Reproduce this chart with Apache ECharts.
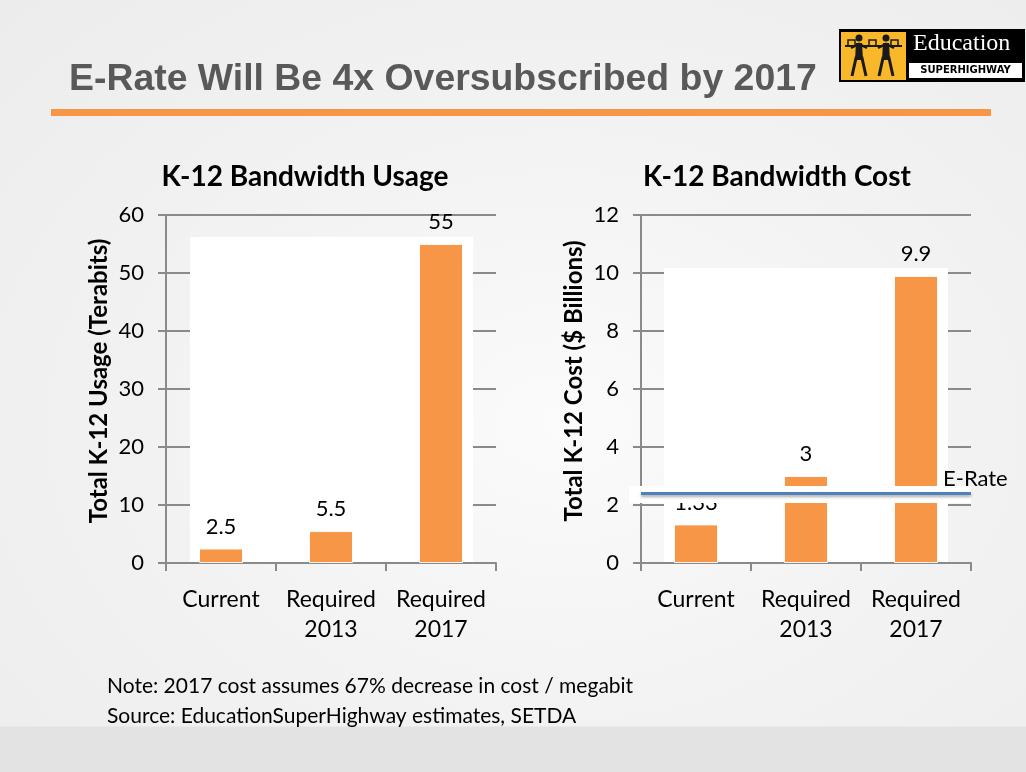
<!DOCTYPE html>
<html>
<head>
<meta charset="utf-8">
<script src="https://cdn.jsdelivr.net/npm/echarts@6.0.0/dist/echarts.min.js"></script>
<style>
  html, body { margin: 0; padding: 0; }
  body {
    width: 1026px; height: 772px; overflow: hidden;
    background:
      linear-gradient(to bottom, rgba(0,0,0,0) 0px, rgba(0,0,0,0) 726px, #e3e3e3 727px, #e3e3e3 772px),
      radial-gradient(ellipse at 55% 55%, #fbfbfb 0%, #f3f3f3 45%, #ececec 100%);
  }
  #chart { width: 1026px; height: 772px; }
</style>
</head>
<body>
<div id="chart"></div>
<script>
// ---- data ----
const categories = ['Current', 'Required\n2013', 'Required\n2017'];
const usageValues = [2.5, 5.5, 55];          // Terabits
const costValues = [1.33, 3, 9.9];           // $ Billions
const eRateBudget = [2.4];                   // $ Billions (E-Rate line)
const usageTicks = [0, 10, 20, 30, 40, 50, 60];
const costTicks = [0, 2, 4, 6, 8, 10, 12];
const chartTitles = ['K-12 Bandwidth Usage', 'K-12 Bandwidth Cost'];
const axisNames = ['Total K-12 Usage (Terabits)', 'Total K-12 Cost ($ Billions)'];
const mainTitle = 'E-Rate Will Be 4x Oversubscribed by 2017';
const notes = ['Note: 2017 cost assumes 67% decrease in cost / megabit',
               'Source: EducationSuperHighway estimates, SETDA'];

// ---- styling ----
const FONT = 'Lato, "Open Sans", sans-serif';
const ORANGE = '#F79646';
const GRAY = '#8a8a8a';

const chart = echarts.init(document.getElementById('chart'), null, { renderer: 'canvas' });

function xAxisCfg(i) {
  return {
    type: 'category', gridIndex: i, data: categories,
    axisLine: { show: true, lineStyle: { color: GRAY, width: 2 } },
    axisTick: { show: true, length: 8, lineStyle: { color: GRAY, width: 2 } },
    axisLabel: { color: '#000', fontSize: 23, fontFamily: FONT, lineHeight: 30, margin: 22, interval: 0 },
    splitLine: { show: false }
  };
}
function yAxisCfg(i, ticks, name) {
  return {
    type: 'value', gridIndex: i,
    min: ticks[0], max: ticks[ticks.length - 1], interval: ticks[1] - ticks[0],
    name: name, nameLocation: 'middle', nameGap: 55,
    nameTextStyle: { color: '#000', fontSize: 24, fontWeight: 'bold', fontFamily: FONT, padding: [0, 0, 0, 16] },
    axisLine: { show: true, lineStyle: { color: GRAY, width: 2 } },
    axisTick: { show: true, length: 8, lineStyle: { color: GRAY, width: 2 } },
    axisLabel: { color: '#000', fontSize: 22, fontFamily: FONT, margin: 22 },
    splitLine: { show: true, lineStyle: { color: GRAY, width: 2 } }
  };
}
const barLabel = { show: true, position: 'top', distance: 11, color: '#000', fontSize: 22, fontFamily: FONT };

const option = {
  animation: false,
  backgroundColor: 'transparent',
  title: [
    { text: chartTitles[0], left: 300, top: 158, textAlign: 'center',
      textStyle: { fontSize: 28, fontWeight: 'bold', color: '#000', fontFamily: FONT } },
    { text: chartTitles[1], left: 772, top: 158, textAlign: 'center',
      textStyle: { fontSize: 28, fontWeight: 'bold', color: '#000', fontFamily: FONT } },
    { text: mainTitle, left: 69, top: 61, padding: 0,
      textStyle: { fontSize: 37.4, fontWeight: 'bold', color: '#595959', fontFamily: '"Liberation Sans", Arial, sans-serif' } }
  ],
  grid: [
    { left: 166, top: 215, width: 330, height: 348 },
    { left: 641, top: 215, width: 330, height: 348 }
  ],
  xAxis: [xAxisCfg(0), xAxisCfg(1)],
  yAxis: [yAxisCfg(0, usageTicks, axisNames[0]), yAxisCfg(1, costTicks, axisNames[1])],
  series: [
    {
      type: 'bar', xAxisIndex: 0, yAxisIndex: 0, data: usageValues, barWidth: 44,
      itemStyle: { color: ORANGE, borderColor: 'rgba(255,255,255,0.9)', borderWidth: 1 },
      label: barLabel, z: 3
    },
    {
      type: 'bar', xAxisIndex: 1, yAxisIndex: 1, data: costValues, barWidth: 44,
      itemStyle: { color: ORANGE, borderColor: 'rgba(255,255,255,0.9)', borderWidth: 1 },
      label: barLabel, z: 3,
      markLine: {
        z: 30, silent: true, symbol: ['none', 'none'],
        data: [{ yAxis: eRateBudget[0] }],
        lineStyle: { color: '#4F81BD', width: 3, type: 'solid',
          shadowColor: 'rgba(0,0,0,0.35)', shadowBlur: 3, shadowOffsetY: 2 },
        label: { show: true, position: 'end', formatter: 'E-Rate', color: '#000', fontSize: 22,
          fontFamily: FONT, offset: [-33, -14] }
      }
    }
  ],
  graphic: [
    // white plot panels
    { type: 'rect', z: 1, shape: { x: 190, y: 237, width: 283, height: 325 }, style: { fill: '#fff' } },
    { type: 'rect', z: 1, shape: { x: 664, y: 268, width: 284, height: 294 }, style: { fill: '#fff' } },
    // white band behind the E-Rate line
    { type: 'rect', z: 20, shape: { x: 629, y: 486, width: 342, height: 17 }, style: { fill: '#fff' } },
    // orange rule
    { type: 'rect', z: 1, shape: { x: 51, y: 109, width: 940, height: 7 }, style: { fill: ORANGE } },
    // notes
    { type: 'text', z: 1, left: 107, top: 676, style: { text: notes[0], fill: '#000', font: '21px ' + FONT } },
    { type: 'text', z: 1, left: 107, top: 706, style: { text: notes[1], fill: '#000', font: '21px ' + FONT } },
    // logo
    { type: 'group', z: 1, children: [
      { type: 'rect', shape: { x: 839, y: 29, width: 186, height: 53 }, style: { fill: '#000' } },
      { type: 'rect', shape: { x: 841, y: 32, width: 65, height: 48 }, style: { fill: '#F8B829' } },
      { type: 'rect', shape: { x: 845, y: 45, width: 57, height: 2 }, style: { fill: '#1a1a1a' } },
      { type: 'rect', shape: { x: 848, y: 40, width: 7, height: 6 }, style: { fill: 'none', stroke: '#1a1a1a', lineWidth: 1.5 } },
      { type: 'rect', shape: { x: 869, y: 40, width: 7, height: 6 }, style: { fill: 'none', stroke: '#1a1a1a', lineWidth: 1.5 } },
      { type: 'rect', shape: { x: 891, y: 40, width: 7, height: 6 }, style: { fill: 'none', stroke: '#1a1a1a', lineWidth: 1.5 } },
      { type: 'circle', shape: { cx: 859, cy: 38, r: 3.5 }, style: { fill: '#1a1a1a' } },
      { type: 'polyline', shape: { points: [[851, 48], [859, 44], [867, 48]] }, style: { stroke: '#1a1a1a', lineWidth: 2.5, fill: 'none' } },
      { type: 'polygon', shape: { points: [[856, 43], [862, 43], [863, 60], [855, 60]] }, style: { fill: '#1a1a1a' } },
      { type: 'polyline', shape: { points: [[852, 76], [856, 58], [862, 58], [866, 76]] }, style: { stroke: '#1a1a1a', lineWidth: 3, fill: 'none' } },
      { type: 'circle', shape: { cx: 886, cy: 38, r: 3.5 }, style: { fill: '#1a1a1a' } },
      { type: 'polyline', shape: { points: [[878, 48], [886, 44], [894, 48]] }, style: { stroke: '#1a1a1a', lineWidth: 2.5, fill: 'none' } },
      { type: 'polygon', shape: { points: [[883, 43], [889, 43], [890, 60], [882, 60]] }, style: { fill: '#1a1a1a' } },
      { type: 'polyline', shape: { points: [[879, 76], [883, 58], [889, 58], [893, 76]] }, style: { stroke: '#1a1a1a', lineWidth: 3, fill: 'none' } },
      { type: 'text', x: 913, y: 32, style: { text: 'Education', fill: '#fff', font: '24px "Liberation Serif", "DejaVu Serif", serif' } },
      { type: 'rect', shape: { x: 909, y: 63, width: 113, height: 15 }, style: { fill: '#fff' } },
      { type: 'text', x: 965.5, y: 70.5, style: { text: 'SUPERHIGHWAY', fill: '#000', align: 'center', verticalAlign: 'middle',
        font: 'bold 10px "DejaVu Sans", sans-serif' } }
    ] }
  ]
};
chart.setOption(option);
</script>
</body>
</html>
